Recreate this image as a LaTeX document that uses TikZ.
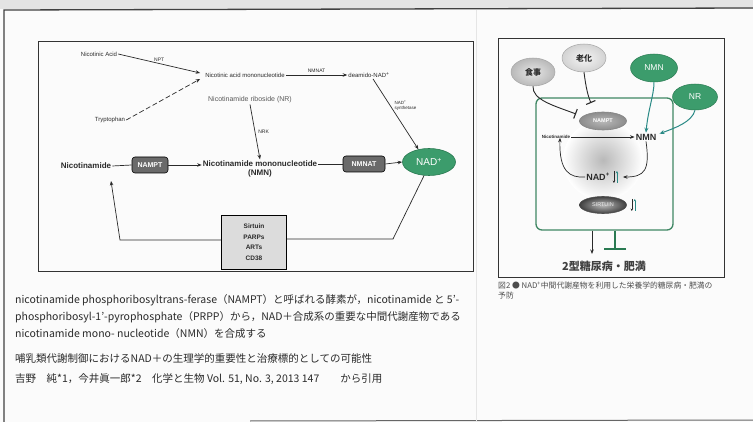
\documentclass[tikz,border=0pt]{standalone}
\usepackage{fontspec}
\setmainfont{Liberation Sans}
\newfontfamily\cjk{Noto Sans CJK JP}
\usetikzlibrary{shapes.geometric,arrows.meta,calc}
\definecolor{pagebg}{HTML}{FBFBFB}
\definecolor{topgray}{HTML}{E4E4E4}
\definecolor{nadgreen}{HTML}{3C9C6C}
\definecolor{darkgreen}{HTML}{2A7A52}
\definecolor{tealc}{HTML}{2A8A86}
\definecolor{enzgray}{HTML}{6A6A6A}
\definecolor{boxgray}{HTML}{DCDCDC}
\definecolor{txt}{HTML}{2A2A2A}
\begin{document}
\begin{tikzpicture}[x=1pt,y=-1pt,
  tinyt/.style={font=\fontsize{6}{7}\selectfont, inner sep=1pt, text=txt},
  labt/.style={font=\fontsize{5}{6}\selectfont, inner sep=1pt, text=txt},
  boldt/.style={font=\fontsize{8}{9.5}\selectfont\bfseries, inner sep=1pt, text=txt, align=center},
  enz/.style={draw=black, line width=0.6pt, fill=enzgray, rounded corners=3pt, text=white,
    font=\fontsize{7}{8}\selectfont\bfseries, minimum height=16pt, inner sep=1pt},
  arr/.style={-{Stealth[length=4.5pt,width=3.5pt]}, line width=0.7pt, draw=txt},
  plain/.style={line width=0.7pt, draw=txt},
  inh/.style={-{Bar[width=10pt,line width=1.1pt]}, line width=0.9pt, draw=txt},
  tealarr/.style={-{Stealth[length=5pt,width=4pt]}, line width=1pt, draw=tealc},
  gell/.style={ellipse, draw=gray!70, line width=0.5pt, inner color=gray!20, outer color=gray!55,
    font=\cjk\fontsize{8}{9}\selectfont\bfseries, text=txt, minimum width=44pt, minimum height=28pt, inner sep=0pt},
  grell/.style={ellipse, draw=darkgreen, line width=0.5pt, fill=nadgreen,
    font=\fontsize{8.5}{9}\selectfont, text=white, minimum width=47pt, minimum height=28pt, inner sep=0pt},
  jp/.style={font=\cjk\fontsize{10.5}{12}\selectfont, text=txt, inner sep=0pt, anchor=west},
  boxline/.style={draw=black!80, line width=0.9pt}
]
\useasboundingbox (0,0) rectangle (753,422);
\fill[pagebg] (0,0) rectangle (753,422);
\fill[topgray] (0,0) rectangle (753,9);
\draw[black!75, line width=1.3pt] (4,422) -- (4,10) -- (753,8);
\draw[black!60, line width=1pt] (250,421) -- (753,420);
\draw[gray!20, line width=0.6pt] (476,10) -- (476,422);

% ---------------- left panel ----------------
\draw[boxline] (38,41) rectangle (473,271);

\node[tinyt] (na) at (99,54) {Nicotinic Acid};
\node[tinyt] (trp) at (110,120) {Tryptophan};
\node[tinyt] (namn) at (245,75) {Nicotinic acid mononucleotide};
\node[tinyt] (dnad) at (369,75) {deamido-NAD\textsuperscript{+}};
\node[font=\fontsize{7}{8}\selectfont, text=black!65, inner sep=1pt] (nr) at (250,100) {Nicotinamide riboside (NR)};
\node[boldt] (nam) at (86,166) {Nicotinamide};
\node[enz, minimum width=36pt] (nampt) at (150,165) {NAMPT};
\node[boldt] (nmn) at (260,169) {Nicotinamide mononucleotide\\(NMN)};
\node[enz, minimum width=42pt] (nmnat) at (364,164) {NMNAT};
\node[ellipse, draw=darkgreen, line width=0.6pt, fill=nadgreen, text=white, font=\fontsize{10}{11}\selectfont,
  minimum width=53pt, minimum height=27pt, inner sep=0pt] (nad) at (429,162) {NAD\textsuperscript{+}};
\node[draw=black, line width=0.8pt, fill=boxgray, font=\fontsize{6.5}{10.5}\selectfont\bfseries, text=txt,
  align=center, minimum width=65pt, minimum height=54pt, inner sep=1pt] (sirt) at (254,242) {Sirtuin\\PARPs\\ARTs\\CD38};

\coordinate (namtip) at (111,181);
\coordinate (c1) at (393,239);
\coordinate (c2) at (120,240);

\draw[arr] (na.east) -- ($(namn.west)+(-4,-2)$) node[labt, midway, above=1pt] {NPT};
\draw[arr, dash pattern=on 5pt off 2.5pt] (trp.east) -- ($(namn.west)+(-4,4)$);
\draw[arr] (namn.east) -- (dnad.west) node[labt, midway, above=1pt] {NMNAT};
\draw[arr] ($(dnad.south)+(4,0)$) -- (nad.130)
  node[labt, pos=0.38, right=3pt, align=left, font=\fontsize{4.5}{5.5}\selectfont] {NAD\textsuperscript{+}\\synthetase};
\draw[arr] (nr.south) -- (nmn.north) node[labt, midway, right=2pt] {NRK};
\draw[plain] (nam.east) -- (nampt.west);
\draw[arr] (nampt.east) -- (nmn.west |- nampt.east);
\draw[plain] (nmn.east |- nmnat.west) -- (nmnat.west);
\draw[arr] (nmnat.east) -- (nad.west);
\draw[plain] (nad.250) -- (c1) -- (sirt.east |- c1);
\draw[arr] (sirt.west |- c2) -- (c2) -- (namtip);

% ---------------- text below ----------------
\node[jp] (t1) at (15,300) {nicotinamide phosphoribosyltrans-ferase（NAMPT）と呼ばれる酵素が，nicotinamide と 5’-};
\node[jp] (t2) at (15,317) {phosphoribosyl-1’-pyrophosphate（PRPP）から，NAD＋合成系の重要な中間代謝産物である};
\node[jp] (t3) at (15,334) {nicotinamide mono- nucleotide（NMN）を合成する};
\node[jp] (t4) at (15,358) {哺乳類代謝制御におけるNAD＋の生理学的重要性と治療標的としての可能性};
\node[jp] (t5) at (15,379) {吉野　純*1，今井眞一郎*2　化学と生物 Vol. 51, No. 3, 2013 147　　から引用};

% ---------------- right panel ----------------
\draw[boxline] (498,38) rectangle (724,277);

\shade[inner color=gray!55, outer color=white] (603,160) circle (40pt);
\node[draw=darkgreen!90, line width=1.3pt, rounded corners=6pt, minimum width=137pt, minimum height=132pt] (grect) at (604.5,164) {};

\node[gell] (meal) at (533,72) {食事};
\node[gell, inner color=gray!8, outer color=gray!35] (aging) at (584,58) {老化};
\node[grell] (nmnE) at (654,68) {NMN};
\node[grell, minimum width=45pt, minimum height=26pt] (nrE) at (695,97) {NR};

\node[ellipse, draw=gray!95, line width=0.6pt, inner color=gray!55, outer color=gray!90, text=white,
  font=\fontsize{5.5}{6}\selectfont\bfseries, minimum width=47pt, minimum height=18pt, inner sep=0pt] (nampt2) at (603,121) {NAMPT};
\node[font=\fontsize{4.5}{5}\selectfont\bfseries, text=txt, inner sep=1pt] (nic2) at (556,137) {Nicotinamide};
\node[font=\fontsize{9}{10}\selectfont\bfseries, text=txt, inner sep=1pt] (nmn2) at (646,137) {NMN};
\node[font=\fontsize{9}{10}\selectfont\bfseries, text=txt, inner sep=1pt] (nad2) at (598,177) {NAD\textsuperscript{+}};
\node[ellipse, draw=black!70, line width=0.6pt, inner color=gray!55, outer color=black!75, text=gray!15,
  font=\fontsize{5.5}{6}\selectfont, minimum width=47pt, minimum height=17pt, inner sep=0pt] (sirt2) at (603,205) {SIRTUIN};
\node[font=\cjk\fontsize{11}{13}\selectfont\bfseries, text=black!75, inner sep=0pt] (dis) at (604,266) {2型糖尿病・肥満};

\coordinate (agbar) at (591,103);
\coordinate (mealbar) at (576,114);
\coordinate (dA) at (592,254);
\coordinate (dB) at (615,250);

\draw[inh] (aging.south) .. controls (586,88) and (588,96) .. (agbar);
\draw[inh] (meal.south) .. controls (532,100) and (555,106) .. (mealbar);
\draw[tealarr] (nmnE.south) .. controls (654,95) and (648,110) .. (nmn2.north);
\draw[tealarr] (nrE.south) .. controls (692,122) and (675,128) .. ($(nmn2.north east)+(2,1)$);
\draw[arr] (nic2.east) -- (nmn2.west);
\draw[arr] (nmn2.south) .. controls (650,170) and (645,177) .. ($(nad2.east)+(12,0)$);
\draw[arr] (nad2.west) .. controls (570,178) and (559,172) .. ($(nic2.south)+(4,-2)$);

% small up/down arrows
\draw[-{Stealth[length=2.5pt,width=2.5pt]}, line width=0.6pt, draw=txt] ($(nad2.east)+(3,-6)$) -- ($(nad2.east)+(3,6)$);
\draw[-{Stealth[length=2.5pt,width=2.5pt]}, line width=0.6pt, draw=tealc] ($(nad2.east)+(6,6)$) -- ($(nad2.east)+(6,-6)$);
\draw[-{Stealth[length=2.5pt,width=2.5pt]}, line width=0.6pt, draw=txt] ($(sirt2.east)+(5,-6)$) -- ($(sirt2.east)+(5,6)$);
\draw[-{Stealth[length=2.5pt,width=2.5pt]}, line width=0.6pt, draw=tealc] ($(sirt2.east)+(8,6)$) -- ($(sirt2.east)+(8,-6)$);

\draw[arr, line width=1pt] (grect.south -| dA) -- (dA);
\draw[-{Bar[width=22pt,line width=1.5pt]}, line width=1.2pt, draw=darkgreen] (grect.south -| dB) -- (dB);

\node[font=\cjk\fontsize{7.8}{9.5}\selectfont, text=black!70, inner sep=0pt, anchor=north west, align=left] (cap)
  at (498,282) {図2 ● NAD\textsuperscript{+}中間代謝産物を利用した栄養学的糖尿病・肥満の\\予防};
\end{tikzpicture}
\end{document}
